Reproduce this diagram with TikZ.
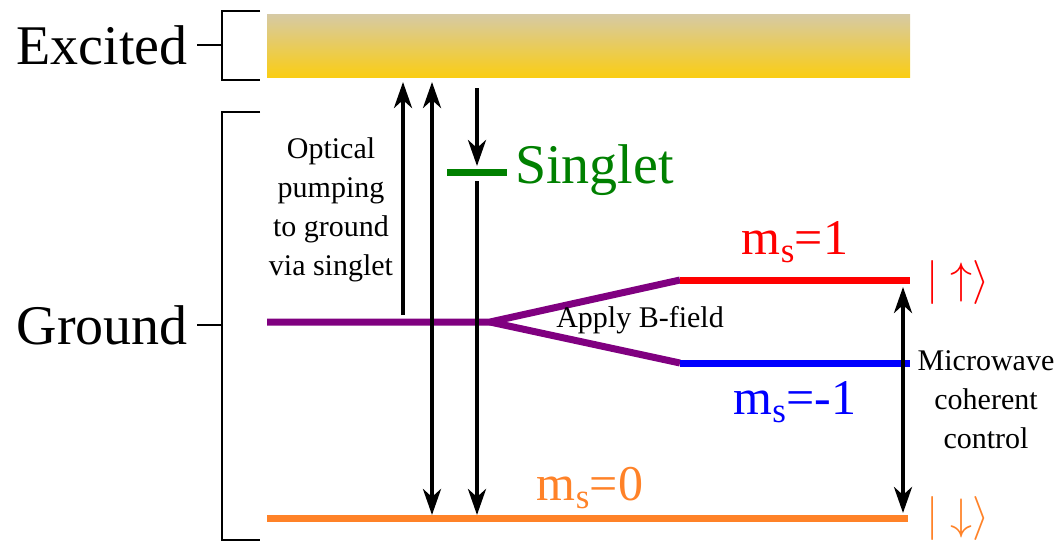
\documentclass[tikz,border=0pt]{standalone}
\usepackage{fix-cm}
\usepackage{fontspec}
\setmainfont{Liberation Serif}
\usetikzlibrary{arrows.meta}
\definecolor{exctop}{RGB}{214,202,165}
\definecolor{excbot}{RGB}{250,205,20}
\definecolor{mspurple}{RGB}{128,0,128}
\definecolor{msorange}{RGB}{255,130,40}
\definecolor{singgreen}{RGB}{0,128,0}

\tikzset{
  level/.style={line width=7pt},
  bracket/.style={line width=2.5pt},
  trans/.style={line width=4pt},
  bigtext/.style={inner sep=0pt, font=\fontsize{56}{60}\selectfont},
  mstext/.style={inner sep=0pt, font=\fontsize{50}{54}\selectfont},
  kettext/.style={inner sep=0pt, font=\fontsize{44}{48}\selectfont},
  smalltext/.style={inner sep=0pt, align=center, font=\fontsize{30}{39}\selectfont}
}

\begin{document}
\begin{tikzpicture}[x=1pt, y=-1pt, >={Stealth[length=26pt,width=18pt,inset=8pt]}]
    \useasboundingbox (0,0) rectangle (1061,542);
    % Excited band
    \shade[top color=exctop, bottom color=excbot] (267,14) rectangle (910,77);
    % Brackets
    \draw[bracket] (260,11) -- (222,11) -- (222,80) -- (260,80);
    \draw[bracket] (260,112) -- (222,112) -- (222,540) -- (260,540);
    \node[bigtext, anchor=east] (exc) at (188,45) {Excited};
    \node[bigtext, anchor=east] (gnd) at (188,325) {Ground};
    \draw[bracket] (exc.east) ++(9,0) -- (222,45);
    \draw[bracket] (gnd.east) ++(9,0) -- (222,325);
    % Levels
    \coordinate (g0) at (267,322); \coordinate (split) at (490,322);
    \coordinate (p0) at (680,280); \coordinate (p1) at (910,280);
    \coordinate (m0) at (680,363); \coordinate (m1) at (910,363);
    \coordinate (z0) at (267,518); \coordinate (z1) at (908,518);
    \draw[level, mspurple] (g0) -- (split) -- (p0);
    \draw[level, mspurple] (split) -- (m0);
    \draw[level, red] (p0) -- (p1);
    \draw[level, blue] (m0) -- (m1);
    \draw[level, msorange] (z0) -- (z1);
    \draw[level, singgreen] (447,172) coordinate (s0) -- (507,172) coordinate (s1);
    \node[bigtext, anchor=west, singgreen] (singlet) at (515,170) {Singlet};
    % Level labels
    \node[mstext, red] (lp) at (795,242) {m\textsubscript{s}=1};
    \node[mstext, blue] (lm) at (795,402) {m\textsubscript{s}=-1};
    \node[mstext, msorange] (lz) at (590,488) {m\textsubscript{s}=0};
    \node[kettext, red] (ketup) at (958,282) {$|\uparrow\rangle$};
    \node[kettext, msorange] (ketdn) at (958,518) {$|\downarrow\rangle$};
    % Transitions
    \coordinate (a1b) at (403,315); \coordinate (a1t) at (403,82);
    \coordinate (a2b) at (432,515); \coordinate (a2t) at (432,82);
    \coordinate (a3t) at (477,88);  \coordinate (a3m) at (477,166);
    \coordinate (a3s) at (477,181); \coordinate (a3b) at (477,515);
    \coordinate (mwt) at (903,287); \coordinate (mwb) at (903,513);
    \draw[trans, ->] (a1b) -- (a1t);
    \draw[trans, <->] (a2b) -- (a2t);
    \draw[trans, ->] (a3t) -- (a3m);
    \draw[trans, ->] (a3s) -- (a3b);
    \draw[trans, <->] (mwt) -- (mwb);
    % Annotations
    \node[smalltext] (pump) at (331,210) {Optical\\pumping\\to ground\\via singlet};
    \node[smalltext] (bfield) at (640,320) {Apply B-field};
    \node[smalltext] (mw) at (986,400) {Microwave\\coherent\\control};
\end{tikzpicture}
\end{document}
